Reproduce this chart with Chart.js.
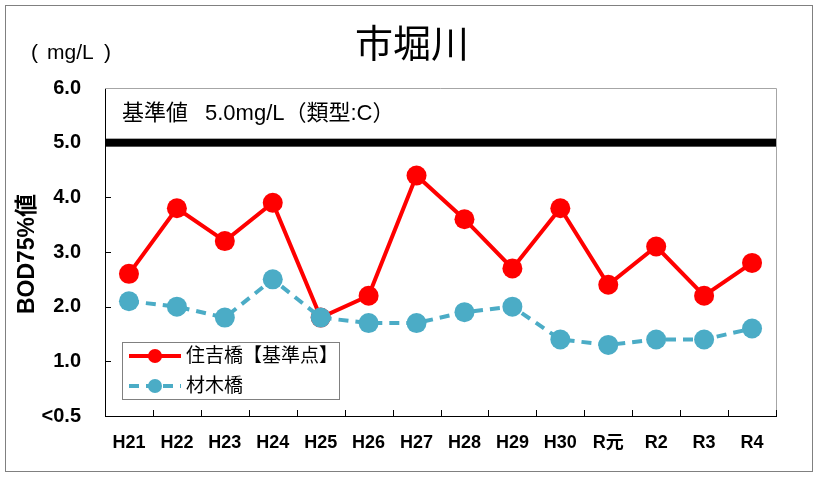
<!DOCTYPE html>
<html>
<head>
<meta charset="utf-8">
<script src="https://cdn.jsdelivr.net/npm/chart.js@4.4.1/dist/chart.umd.min.js"></script>
<style>
  html, body { margin: 0; padding: 0; background: #fff; }
  #wrap { width: 819px; height: 482px; position: relative; }
</style>
</head>
<body>
<div id="wrap"><canvas id="chartBod" width="819" height="482"></canvas></div>
<script>
// data
const years = ['H21', 'H22', 'H23', 'H24', 'H25', 'H26', 'H27', 'H28', 'H29', 'H30', 'R元', 'R2', 'R3', 'R4'];
const sumiyoshi = [2.6, 3.8, 3.2, 3.9, 1.8, 2.2, 4.4, 3.6, 2.7, 3.8, 2.4, 3.1, 2.2, 2.8];
const zaimoku = [2.1, 2.0, 1.8, 2.5, 1.8, 1.7, 1.7, 1.9, 2.0, 1.4, 1.3, 1.4, 1.4, 1.6];
const yTicks = [0, 1, 2, 3, 4, 5, 6];
const standardValue = 5.0;

const FONT = "'Liberation Sans', 'Noto Sans CJK JP', sans-serif";
const RED = '#ff0000';
const BLUE = '#4bacc6';

const extras = {
    id: 'extras',
    afterDraw(chart) {
        const c = chart.ctx;
        const a = chart.chartArea;
        const x = chart.scales.x, y = chart.scales.y;
        c.save();

        // outer frame
        c.strokeStyle = '#808080';
        c.lineWidth = 1;
        c.strokeRect(5.5, 5.5, 807, 466);

        // light top/right border of plot
        c.strokeStyle = '#a6a6a6';
        c.beginPath();
        c.moveTo(a.left, a.top + 0.5); c.lineTo(a.right + 0.5, a.top + 0.5);
        c.lineTo(a.right + 0.5, a.bottom);
        c.stroke();

        // inward tick marks
        c.strokeStyle = '#000';
        c.beginPath();
        yTicks.forEach(v => {
            if (v === 0 || v === 6) return;
            const py = Math.round(y.getPixelForValue(v)) + 0.5;
            c.moveTo(a.left, py); c.lineTo(a.left + 6, py);
        });
        for (let i = 0; i <= years.length; i++) {
            const px = Math.round(x.getPixelForValue(i - 0.5)) + 0.5;
            c.moveTo(px, a.bottom); c.lineTo(px, a.bottom - 6);
        }
        c.stroke();

        // standard line
        const sy = y.getPixelForValue(standardValue);
        c.fillStyle = '#000';
        c.fillRect(a.left, sy - 4, a.right - a.left, 8);

        // texts
        c.fillStyle = '#000';
        c.textBaseline = 'middle';
        c.textAlign = 'center';
        c.font = '38px ' + FONT;
        c.fillText('市堀川', 412, 47);

        c.textAlign = 'left';
        c.font = '21px ' + FONT;
        c.fillText('(', 31, 53);
        c.fillText('mg/L', 47, 53);
        c.fillText(')', 104, 53);

        c.font = '22px ' + FONT;
        c.fillText('基準値', 122, 114);
        c.fillText('5.0mg/L（類型:C）', 205, 114);

        c.save();
        c.translate(28, 254);
        c.rotate(-Math.PI / 2);
        c.textAlign = 'center';
        c.font = 'bold 23px ' + FONT;
        c.fillText('BOD75%値', 0, 0);
        c.restore();

        // legend box
        c.fillStyle = '#fff';
        c.fillRect(122, 342, 217, 57);
        c.strokeStyle = '#808080';
        c.lineWidth = 1;
        c.strokeRect(122.5, 342.5, 217, 57);
        const rows = [356, 386];
        chart.data.datasets.forEach((ds, i) => {
            const ry = rows[i];
            c.strokeStyle = ds.borderColor;
            c.lineWidth = 4;
            c.setLineDash(ds.borderDash || []);
            c.beginPath();
            c.moveTo(129, ry); c.lineTo(181, ry);
            c.stroke();
            c.setLineDash([]);
            c.fillStyle = ds.backgroundColor;
            c.beginPath();
            c.arc(155, ry, 7, 0, Math.PI * 2);
            c.fill();
            c.fillStyle = '#000';
            c.font = '19px ' + FONT;
            c.textAlign = 'left';
            c.fillText(ds.label, 186, ry + 1);
        });
        c.restore();
    }
};

const ctx = document.getElementById('chartBod').getContext('2d');
const chart = new Chart(ctx, {
    type: 'line',
    data: {
        labels: years,
        datasets: [{
            label: '住吉橋【基準点】',
            data: sumiyoshi,
            borderColor: RED,
            backgroundColor: RED,
            borderWidth: 4,
            pointRadius: 10,
            pointBorderWidth: 0,
            tension: 0,
            order: 2
        }, {
            label: '材木橋',
            data: zaimoku,
            borderColor: BLUE,
            backgroundColor: BLUE,
            borderWidth: 4,
            borderDash: [10, 7],
            pointRadius: 10,
            pointBorderWidth: 0,
            tension: 0,
            order: 1
        }]
    },
    options: {
        responsive: false,
        animation: false,
        layout: { padding: { top: 88, right: 43, bottom: 0, left: 0 } },
        plugins: {
            legend: { display: false },
            tooltip: { enabled: false }
        },
        scales: {
            x: {
                offset: true,
                grid: { display: false, drawTicks: false },
                border: { color: '#000', width: 1 },
                ticks: { color: '#000', padding: 16, font: { family: FONT, size: 18, weight: 'bold' }, maxRotation: 0 },
                afterFit(s) { s.height = 66; }
            },
            y: {
                min: 0,
                max: 6,
                afterBuildTicks(s) { s.ticks = yTicks.map(v => ({ value: v })); },
                grid: { display: false, drawTicks: false },
                border: { color: '#000', width: 1 },
                ticks: {
                    color: '#000',
                    padding: 24,
                    font: { family: FONT, size: 20, weight: 'bold' },
                    callback: v => v === 0 ? '<0.5' : v.toFixed(1)
                },
                afterFit(s) { s.width = 105; }
            }
        }
    },
    plugins: [extras]
});
</script>
</body>
</html>
